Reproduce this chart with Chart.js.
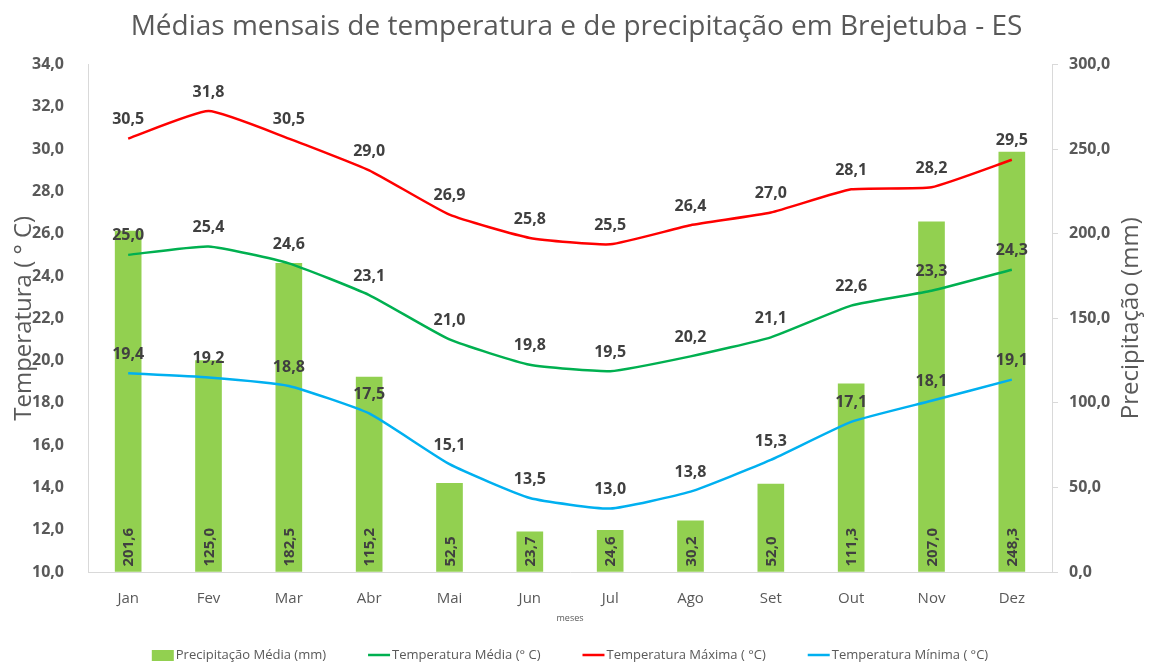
<!DOCTYPE html>
<html>
<head>
<meta charset="utf-8">
<script src="https://cdn.jsdelivr.net/npm/chart.js@4.4.0/dist/chart.umd.min.js"></script>
<style>
  html, body { margin: 0; padding: 0; background: #fff; }
</style>
</head>
<body>
<canvas id="grafico" width="1153" height="664"></canvas>
<script>
// Dados
const meses = ['Jan', 'Fev', 'Mar', 'Abr', 'Mai', 'Jun', 'Jul', 'Ago', 'Set', 'Out', 'Nov', 'Dez'];
const precipitacao = [201.6, 125.0, 182.5, 115.2, 52.5, 23.7, 24.6, 30.2, 52.0, 111.3, 207.0, 248.3];
const tempMedia = [25.0, 25.4, 24.6, 23.1, 21.0, 19.8, 19.5, 20.2, 21.1, 22.6, 23.3, 24.3];
const tempMaxima = [30.5, 31.8, 30.5, 29.0, 26.9, 25.8, 25.5, 26.4, 27.0, 28.1, 28.2, 29.5];
const tempMinima = [19.4, 19.2, 18.8, 17.5, 15.1, 13.5, 13.0, 13.8, 15.3, 17.1, 18.1, 19.1];

const cinza = '#595959';
const fonte = '"Open Sans", "DejaVu Sans", sans-serif';
const fmt = v => v.toFixed(1).replace('.', ',');

// Rótulos de dados (barras na base, girados; linhas acima dos pontos)
const rotulos = {
  id: 'rotulos',
  afterDatasetsDraw(chart) {
    const ctx = chart.ctx;
    ctx.save();
    ctx.fillStyle = '#404040';
    chart.data.datasets.forEach((ds, i) => {
      const meta = chart.getDatasetMeta(i);
      meta.data.forEach((el, j) => {
        const txt = fmt(ds.data[j]);
        if (ds.type === 'bar') {
          ctx.save();
          ctx.translate(el.x, el.base - 5);
          ctx.rotate(-Math.PI / 2);
          ctx.font = 'bold 15px ' + fonte;
          ctx.textAlign = 'left';
          ctx.textBaseline = 'middle';
          ctx.fillText(txt, 0, 1);
          ctx.restore();
        } else {
          ctx.font = 'bold 16px ' + fonte;
          ctx.textAlign = 'center';
          ctx.textBaseline = 'middle';
          ctx.fillText(txt, el.x, el.y - 19);
        }
      });
    });
    ctx.restore();
  }
};

// Título do eixo direito (lido de baixo para cima, como no original)
const tituloDireito = {
  id: 'tituloDireito',
  afterDraw(chart) {
    const ctx = chart.ctx;
    const area = chart.chartArea;
    ctx.save();
    ctx.translate(1131, (area.top + area.bottom) / 2);
    ctx.rotate(-Math.PI / 2);
    ctx.font = '24px ' + fonte;
    ctx.fillStyle = cinza;
    ctx.textAlign = 'center';
    ctx.textBaseline = 'middle';
    ctx.fillText('Precipitação (mm)', 0, 0);
    ctx.restore();
  }
};

// Legenda desenhada à mão para controlar o espaçamento
const legenda = {
  id: 'legenda',
  afterDraw(chart) {
    const ctx = chart.ctx;
    ctx.save();
    ctx.font = '13px "Liberation Sans Narrow", ' + fonte;
    const marcador = 22, espaco = 2, gap = 42;
    const itens = chart.data.datasets.map(ds => ({
      texto: ds.label,
      barra: ds.type === 'bar',
      cor: ds.type === 'bar' ? ds.backgroundColor : ds.borderColor,
      w: ctx.measureText(ds.label).width
    }));
    const total = itens.reduce((s, it) => s + marcador + espaco + it.w, 0) + gap * (itens.length - 1);
    const area = chart.chartArea;
    let x = (area.left + area.right) / 2 - total / 2;
    const y = 655;
    itens.forEach(it => {
      if (it.barra) {
        ctx.fillStyle = it.cor;
        ctx.fillRect(x, y - 5, marcador, 11);
      } else {
        ctx.strokeStyle = it.cor;
        ctx.lineWidth = 2.5;
        ctx.beginPath();
        ctx.moveTo(x, y);
        ctx.lineTo(x + marcador, y);
        ctx.stroke();
      }
      x += marcador + espaco;
      ctx.fillStyle = cinza;
      ctx.textAlign = 'left';
      ctx.textBaseline = 'middle';
      ctx.fillText(it.texto, x, y);
      x += it.w + gap;
    });
    ctx.restore();
  }
};

const linha = (label, data, cor) => ({
  type: 'line',
  label: label,
  data: data,
  yAxisID: 'y',
  borderColor: cor,
  backgroundColor: cor,
  borderWidth: 2.5,
  pointRadius: 0,
  tension: 0.15,
  order: 1
});

new Chart(document.getElementById('grafico'), {
  type: 'bar',
  data: {
    labels: meses,
    datasets: [
      {
        type: 'bar',
        label: 'Precipitação Média (mm)',
        data: precipitacao,
        yAxisID: 'y1',
        backgroundColor: '#92d050',
        barThickness: 26,
        order: 5
      },
      linha('Temperatura Média (° C)', tempMedia, '#00b050'),
      linha('Temperatura Máxima ( °C)', tempMaxima, '#ff0000'),
      linha('Temperatura Mínima ( °C)', tempMinima, '#00b0f0')
    ]
  },
  options: {
    responsive: false,
    animation: false,
    layout: { padding: { left: 0, right: 0, top: 0, bottom: 32 } },
    plugins: {
      legend: { display: false },
      tooltip: { enabled: false },
      title: {
        display: true,
        text: 'Médias mensais de temperatura e de precipitação em Brejetuba - ES',
        color: cinza,
        font: { family: fonte, size: 28, weight: 'normal' },
        padding: { top: 10, bottom: 21 }
      }
    },
    scales: {
      x: {
        grid: { display: false },
        border: { display: true, color: '#d9d9d9' },
        ticks: { color: cinza, font: { family: fonte, size: 15 }, padding: 10 },
        title: {
          display: true,
          text: 'meses',
          color: cinza,
          font: { family: fonte, size: 9 },
          padding: { top: 0, bottom: 8 }
        },
        afterFit: s => { s.height = 60; }
      },
      y: {
        position: 'left',
        min: 10,
        max: 34,
        grid: { display: false },
        border: { display: true, color: '#d9d9d9' },
        ticks: {
          stepSize: 2,
          color: cinza,
          padding: 16,
          font: { family: fonte, size: 16, weight: 'bold' },
          callback: v => fmt(v)
        },
        title: {
          display: true,
          text: 'Temperatura ( ° C)',
          color: cinza,
          font: { family: fonte, size: 24 },
          padding: { top: 10, bottom: 0 }
        },
        afterFit: s => { s.width = 88; }
      },
      y1: {
        position: 'right',
        min: 0,
        max: 300,
        grid: { drawOnChartArea: false, drawTicks: true, tickLength: 6, color: '#d9d9d9' },
        border: { display: true, color: '#d9d9d9' },
        ticks: {
          stepSize: 50,
          color: cinza,
          padding: 11,
          font: { family: fonte, size: 16, weight: 'bold' },
          callback: v => fmt(v)
        },
        title: { display: false },
        afterFit: s => { s.width = 101; }
      }
    }
  },
  plugins: [rotulos, tituloDireito, legenda]
});
</script>
</body>
</html>
